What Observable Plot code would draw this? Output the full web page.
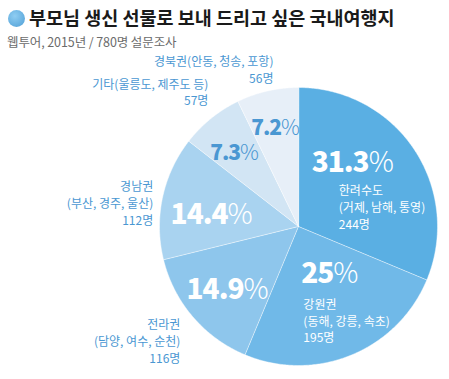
<!DOCTYPE html>
<html><head><meta charset="utf-8">
<script src="https://cdn.jsdelivr.net/npm/d3@7"></script>
<script src="https://cdn.jsdelivr.net/npm/@observablehq/plot@0.6"></script>
<style>
body{margin:0;background:#fff;font-family:"Noto Sans CJK KR","Noto Sans",sans-serif;}
#head{position:relative;width:449px;height:50px;}
#dot{position:absolute;left:8px;top:10px;width:17px;height:17px;border-radius:50%;background:radial-gradient(circle at 40% 35%,#8fcdf2,#4f9fd6);}
#title{position:absolute;left:29px;top:6px;font-size:18.5px;line-height:22px;font-weight:700;color:#1a1a1a;letter-spacing:0;white-space:nowrap;}
#sub{position:absolute;left:7px;top:34px;font-size:12.5px;line-height:16px;color:#6b6b6b;letter-spacing:-0.1px;white-space:nowrap;}
</style></head>
<body>
<div id="head"><div id="dot"></div><div id="title">부모님 생신 선물로 보내 드리고 싶은 국내여행지</div><div id="sub">웹투어, 2015년 / 780명 설문조사</div></div>
<div id="chart"></div>
<script>
// ---- data ----
const regions = ["한려수도", "강원권", "전라권", "경남권", "기타", "경북권"];
const details = ["(거제, 남해, 통영)", "(동해, 강릉, 속초)", "(담양, 여수, 순천)", "(부산, 경주, 울산)", "(울릉도, 제주도 등)", "(안동, 청송, 포항)"];
const counts = [244, 195, 116, 112, 57, 56];
const percents = ["31.3", "25", "14.9", "14.4", "7.3", "7.2"];

// ---- styling / layout (not data) ----
const colors = ["#5aafe3", "#70b9e8", "#8ec6ec", "#a9d3f0", "#d2e5f4", "#e7eff8"];
const pctColors = ["#fff", "#fff", "#fff", "#fff", "#4a97d2", "#4a97d2"];
const pctSizes = [28, 28, 28, 28, 21, 21];
// label offsets in pie-radius units (x right, y up) from the centre
const pctPos = [[0.39, 0.455], [0.225, -0.34], [-0.51, -0.46], [-0.625, 0.08], [-0.46, 0.525], [-0.165, 0.705]];
const R = 139, CX = 298, CY = 176;
const W = 449, H = 329;

const pie = d3.pie().sort(null).value(d => d)(counts);
const slicePts = [];
pie.forEach((p, i) => {
  slicePts.push({region: regions[i], x: 0, y: 0});
  const n = Math.max(2, Math.ceil((p.endAngle - p.startAngle) / 0.01));
  for (let k = 0; k <= n; k++) {
    const a = p.startAngle + (p.endAngle - p.startAngle) * k / n;
    slicePts.push({region: regions[i], x: Math.sin(a), y: Math.cos(a)});
  }
});

const pctData = percents.map((p, i) => ({label: p + "%", x: pctPos[i][0], y: pctPos[i][1], i}));
// inner detail labels (white) for the two largest slices
const innerData = [0, 1].map(i => ({
  label: regions[i] + "\n" + details[i] + "\n" + counts[i] + "명",
  x: i === 0 ? 0.29 : 0.035, y: i === 0 ? 0.145 : -0.675
}));
// outer labels (blue)
const outerData = [
  {i: 4, label: regions[4] + details[4] + "\n" + counts[4] + "명", x: -0.648, y: 0.97},
  {i: 5, label: regions[5] + details[5] + "\n" + counts[5] + "명", x: -0.18, y: 1.13},
  {i: 3, label: regions[3] + "\n" + details[3] + "\n" + counts[3] + "명", x: -1.045, y: 0.17},
  {i: 2, label: regions[2] + "\n" + details[2] + "\n" + counts[2] + "명", x: -0.85, y: -0.82}
];

const chart = Plot.plot({
  width: W, height: H,
  margin: 0,
  x: {domain: [-1, 1], range: [CX - R, CX + R], axis: null},
  y: {domain: [-1, 1], range: [CY + R, CY - R], axis: null},
  color: {domain: regions, range: colors},
  style: {fontFamily: '"Noto Sans CJK KR","Noto Sans",sans-serif', background: "white"},
  marks: [
    Plot.line(slicePts, {x: "x", y: "y", z: "region", fill: "region", stroke: "white", strokeOpacity: 0.45, strokeWidth: 1, curve: "linear-closed"}),
    Plot.text(pctData, {x: "x", y: "y", text: "label", fill: d => pctColors[d.i], fontSize: d => pctSizes[d.i], textAnchor: "middle", lineAnchor: "middle"}),
    Plot.text(innerData, {x: "x", y: "y", text: "label", fill: "white", fontSize: 12, textAnchor: "start", lineAnchor: "middle", lineHeight: 1.4}),
    Plot.text(outerData, {x: "x", y: "y", text: "label", fill: "#4a97d2", fontSize: 12, textAnchor: "end", lineAnchor: "middle", lineHeight: 1.4})
  ]
});

// bold digits with a light percent sign
d3.select(chart).selectAll("text").each(function() {
  const t = this.textContent;
  if (/^[\d.]+%$/.test(t) && this.children.length === 0) {
    const s = d3.select(this);
    s.text(null);
    s.append("tspan").attr("font-weight", 800).attr("letter-spacing", "-1").text(t.slice(0, -1));
    s.append("tspan").attr("font-weight", 300).text("%");
  }
});
document.getElementById("chart").appendChild(chart);
</script>
</body></html>
